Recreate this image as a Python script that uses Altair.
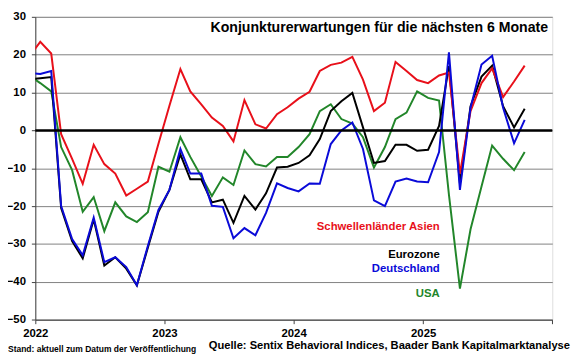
import altair as alt
import pandas as pd

# Monthly observations, Dec 2021 .. Oct 2025 (mid-month positions)
months = [f"{2021 + (i + 11) // 12}-{(i + 11) % 12 + 1:02d}-15" for i in range(47)]

asien = [19.5, 23.4, 20.3, -1.0, -7.5, -14.1, -3.8, -8.9, -11.4, -17.2, -15.4, -13.5,
         -3.5, 6.5, 16.2, 10.3, 6.9, 3.4, 1.2, -2.9, 8.0, 1.6, 0.5, 4.3,
         6.1, 8.4, 10.2, 15.7, 17.3, 17.9, 19.4, 13.4, 5.1, 7.3, 18.1, 15.7,
         13.3, 12.5, 14.5, 15.3, -11.4, 5.1, 12.5, 16.4, 8.8, 12.9, 17.1]

eurozone = [13.5, 13.8, 14.1, -20.5, -29.2, -33.8, -23.5, -35.7, -33.5, -36.5, -40.9, -31.0,
            -21.5, -15.7, -6.3, -12.9, -12.9, -19.0, -18.3, -24.4, -17.3, -20.9, -16.6, -9.8,
            -9.6, -8.6, -6.6, -2.3, 5.1, 7.7, 9.9, 0.8, -8.6, -8.1, -3.8, -3.8,
            -5.4, -5.1, 1.2, 17.0, -14.0, 6.4, 14.2, 17.1, 6.4, 0.8, 5.7]

deutschland = [15.2, 14.9, 15.7, -20.0, -28.7, -33.0, -23.0, -34.8, -33.5, -36.1, -40.9, -30.5,
               -21.0, -15.7, -4.9, -11.4, -11.4, -19.9, -20.2, -28.5, -25.8, -27.7, -21.8, -14.0,
               -15.2, -16.1, -14.0, -14.1, -3.6, 0.0, 2.1, -4.9, -18.5, -20.0, -13.5, -12.7,
               -13.5, -13.7, -5.7, 20.6, -15.7, 6.0, 17.4, 19.7, 6.0, -3.4, 2.8]

usa = [14.5, 12.5, 10.3, -4.4, -10.5, -21.5, -17.6, -26.6, -19.0, -22.7, -24.2, -21.6,
       -9.6, -10.9, -1.8, -7.0, -12.2, -17.3, -12.4, -14.4, -5.3, -8.9, -9.5, -7.0,
       -7.0, -4.4, -1.0, 5.1, 6.9, 3.0, 1.8, -1.8, -9.8, -4.4, 3.0, 4.7,
       10.3, 8.6, 7.9, -17.0, -41.8, -26.1, -14.8, -4.0, -7.5, -10.5, -5.7]

series = ["USA", "Eurozone", "Schwellenländer Asien", "Deutschland"]
series_values = [usa, eurozone, asien, deutschland]
colors = ["#22862a", "#000000", "#e8101a", "#0a0ad8"]

label_texts = ["Schwellenländer Asien", "Eurozone", "Deutschland", "USA"]
label_y = [-25.6, -32.9, -36.7, -43.3]
label_x = ["2025-02-17"] * 4

title_text = "Konjunkturerwartungen für die nächsten 6 Monate"
stand_text = "Stand: aktuell zum Datum der Veröffentlichung"
quelle_text = "Quelle: Sentix Behavioral Indices, Baader Bank Kapitalmarktanalyse"

year_ticks = [2022, 2023, 2024, 2025, 2026]
y_ticks = [-50, -40, -30, -20, -10, 0, 10, 20, 30]

FONT = "Liberation Sans"

rows = []
for name, vals in zip(series, series_values):
    for d, v in zip(months, vals):
        rows.append({"Monat": d, "Wert": v, "Serie": name})
df = pd.DataFrame(rows)

labels_df = pd.DataFrame({"Monat": label_x, "Wert": label_y, "Serie": label_texts})

color_scale = alt.Scale(domain=series, range=colors)
x_scale = alt.Scale(
    type="utc",
    domain=[alt.DateTime(year=2022, month=1, date=1, utc=True),
            alt.DateTime(year=2026, month=1, date=1, utc=True)],
)
y_scale = alt.Scale(domain=[-50, 30], nice=False, zero=False)

x_axis = alt.Axis(
    values=[alt.DateTime(year=y, month=1, date=1, utc=True) for y in year_ticks],
    labelExpr="utcFormat(datum.value, '%Y') == '2026' ? '' : utcFormat(datum.value, '%Y')",
    grid=False, title=None, tickSize=4, tickColor="#404040",
    domainColor="#404040", labelFont=FONT, labelFontWeight="bold",
    labelFontSize=11.5, labelColor="black", labelPadding=4, labelFlush=False,
    labelOverlap=False,
)
y_axis = alt.Axis(
    values=y_ticks, grid=True, gridColor="#808080", gridWidth=1, title=None,
    tickSize=4, tickColor="#404040", domainColor="#404040", labelFont=FONT,
    labelFontWeight="bold", labelFontSize=11.5, labelColor="black", labelPadding=6,
    labelOverlap=False, labelFlush=False, tickCount=9,
)

lines = alt.Chart(df).mark_line(strokeWidth=2, clip=True).encode(
    x=alt.X("Monat:T", scale=x_scale, axis=x_axis),
    y=alt.Y("Wert:Q", scale=y_scale, axis=y_axis),
    color=alt.Color("Serie:N", scale=color_scale, legend=None),
)

zero = alt.Chart(pd.DataFrame({"Wert": [0]})).mark_rule(color="black", strokeWidth=2.5).encode(
    y=alt.Y("Wert:Q", scale=y_scale, axis=y_axis)
)

labels = alt.Chart(labels_df).mark_text(
    align="right", baseline="middle", font=FONT, fontWeight="bold", fontSize=11.5
).encode(
    x=alt.X("Monat:T", scale=x_scale, axis=x_axis),
    y=alt.Y("Wert:Q", scale=y_scale, axis=y_axis),
    color=alt.Color("Serie:N", scale=color_scale, legend=None),
    text="Serie:N",
)

title = alt.Chart(pd.DataFrame({"t": [title_text]})).mark_text(
    align="right", baseline="middle", font=FONT, fontWeight="bold", fontSize=14.3, color="black"
).encode(x=alt.value(520), y=alt.value(11.5), text="t:N")

quelle = alt.Chart(pd.DataFrame({"t": [quelle_text]})).mark_text(
    align="left", baseline="middle", font=FONT, fontWeight="bold", fontSize=11.3, color="black"
).encode(x=alt.value(176), y=alt.value(334), text="t:N")

stand = alt.Chart(pd.DataFrame({"t": [stand_text]})).mark_text(
    align="left", baseline="middle", font=FONT, fontWeight="bold", fontSize=8.6, color="black"
).encode(x=alt.value(-27.7), y=alt.value(337), text="t:N")

chart = alt.layer(lines, zero, labels, title, quelle, stand).properties(
    width=524.3, height=307.2,
    autosize=alt.AutoSizeParams(type="none"),
    padding={"left": 27.7, "top": 6.5, "right": 20, "bottom": 32},
).configure_view(stroke="#808080", strokeWidth=1).configure(background="white")

chart.save("out.html", embed_options={"renderer": "svg", "actions": False})
